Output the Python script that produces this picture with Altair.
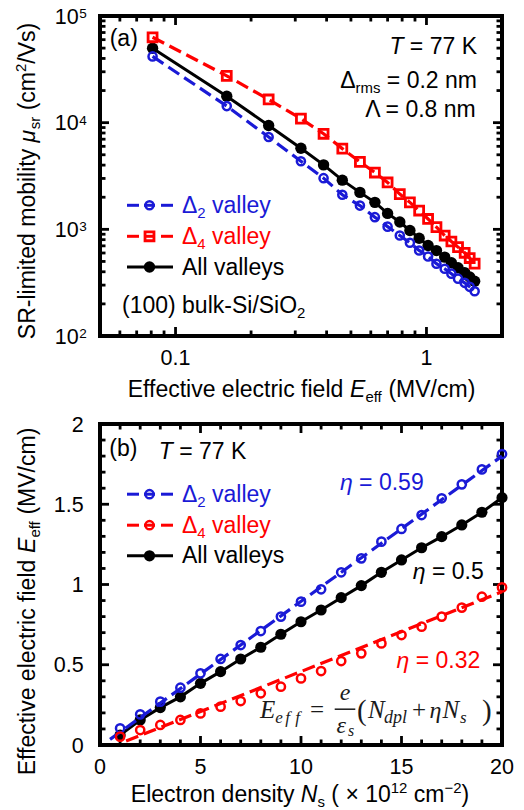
import altair as alt
import pandas as pd

# ---------------- data: panel (a) ----------------
field_a = [0.081, 0.160, 0.235, 0.316, 0.389, 0.462, 0.543, 0.623, 0.700, 0.783,
           0.859, 0.935, 1.015, 1.096, 1.182, 1.257, 1.336, 1.420, 1.487, 1.556]
mu_d2 = [41800, 14300, 7330, 4350, 3020, 2110, 1670, 1300, 1060, 875,
         748, 634, 557, 476, 427, 384, 345, 315, 289, 263]
mu_d4 = [63200, 27500, 16500, 10900, 7870, 5710, 4290, 3410, 2750, 2140,
         1790, 1500, 1250, 1050, 875, 769, 681, 603, 538, 476]
mu_all = [49900, 17700, 9400, 5750, 4020, 2890, 2220, 1790, 1410, 1170,
          975, 826, 706, 632, 549, 486, 437, 393, 357, 326]

# ---------------- data: panel (b) ----------------
ns = list(range(1, 21))
e_d2 = [0.104, 0.191, 0.270, 0.357, 0.447, 0.536, 0.623, 0.710, 0.800, 0.893,
        0.970, 1.076, 1.163, 1.267, 1.346, 1.433, 1.537, 1.624, 1.717, 1.813]
e_d4 = [0.052, 0.093, 0.125, 0.156, 0.197, 0.239, 0.274, 0.322, 0.363, 0.415,
        0.461, 0.523, 0.571, 0.633, 0.685, 0.737, 0.800, 0.856, 0.924, 0.982]
e_all = [0.062, 0.156, 0.233, 0.300, 0.384, 0.457, 0.536, 0.609, 0.690, 0.768,
         0.841, 0.918, 0.993, 1.076, 1.153, 1.229, 1.298, 1.371, 1.450, 1.541]
fit_ns_d2 = [0.5, 20]
fit_e_d2 = [0.035, 1.80]
fit_ns_d4 = [1.3, 20]
fit_e_d4 = [0.025, 0.955]

# ---------------- ticks / labels ----------------
a_x_major = [0.1, 1]
a_x_labels = ["0.1", "1"]
a_x_minor = [0.06, 0.07, 0.08, 0.09, 0.2, 0.3, 0.4, 0.5, 0.6, 0.7, 0.8, 0.9]
a_y_major = [100, 1000, 10000, 100000]
a_y_exp = ["2", "3", "4", "5"]
a_y_minor = [m * 10 ** k for k in (2, 3, 4) for m in range(2, 10)]

b_x_major = [0, 5, 10, 15, 20]
b_x_labels = ["0", "5", "10", "15", "20"]
b_x_minor = [i for i in range(1, 20) if i % 5]
b_y_major = [0, 0.5, 1, 1.5, 2]
b_y_labels = ["0", "0.5", "1", "1.5", "2"]
b_y_minor = [round(0.1 * i, 1) for i in range(1, 20) if i % 5]

BLUE = "#1a1ad6"
RED = "#ff0000"
BLACK = "#000000"
SANS = "Liberation Sans"
SERIF = "Liberation Serif"

WA, HA = 402, 320
WB, HB = 402, 321

AW = {" ": 278, "(": 333, ")": 333, "+": 584, "-": 333, ".": 278, "/": 278, "=": 584,
      "×": 584, "−": 584, "²": 333, "Δ": 668, "Λ": 667, "μ": 576, "η": 556}
for d in "0123456789":
    AW[d] = 556
AW.update(dict(A=667, B=667, C=722, D=722, E=667, F=611, G=778, H=722, I=278, J=500, K=667,
               L=556, M=833, N=722, O=778, P=667, Q=778, R=722, S=667, T=611, U=722, V=667,
               W=944, X=667, Y=667, Z=611))
AW.update(dict(a=556, b=556, c=500, d=556, e=556, f=278, g=556, h=556, i=222, j=222, k=500,
               l=222, m=833, n=556, o=556, p=556, q=556, r=333, s=500, t=278, u=556, v=500,
               w=722, x=500, y=500, z=500))


def tw(s, size):
    return sum(AW.get(c, 556) for c in s) * size / 1000.0


def rich(segs, x, y, base=23, align="left", angle=0, color=BLACK):
    items = []
    for t, kind in segs:
        small = kind in ("sub", "sup")
        size = base * 0.65 if small else base
        shift = 0 if not small else (0.22 * base if kind == "sub" else -0.38 * base)
        items.append((t, kind, size, shift, tw(t, size)))
    total = sum(i[4] for i in items)
    cum = {"left": 0, "center": -total / 2, "right": -total}[align]
    out = []
    for t, kind, size, shift, w in items:
        lead = len(t) - len(t.lstrip(" "))
        off = cum + tw(t[:lead], size)
        if angle == 0:
            px, py = x + off, y + shift
        else:
            px, py = x + shift, y - off
        out.append(dict(text=t.strip(" "), x=px, y=py, size=size, italic=(kind == "i"),
                        angle=angle, color=color, font=SANS, align="left"))
        cum += w
    return out


ONE = pd.DataFrame({"k": [0]})


def text_layers(pieces):
    res = []
    for p in pieces:
        res.append(
            alt.Chart(ONE).mark_text(
                text=p["text"], align=p.get("align", "left"), baseline="alphabetic",
                font=p["font"], fontSize=p["size"],
                fontStyle="italic" if p["italic"] else "normal",
                angle=p["angle"], color=p["color"],
            ).encode(x=alt.value(p["x"]), y=alt.value(p["y"]))
        )
    return res


def hrule(x1, x2, y, color, w=3):
    return alt.Chart(ONE).mark_rule(color=color, strokeWidth=w).encode(
        x=alt.value(x1), x2=alt.value(x2), y=alt.value(y))


def marker(x, y, kind, color, size, sw=2.5):
    if kind == "filled":
        m = alt.Chart(ONE).mark_circle(color=color, size=size, opacity=1)
    else:
        m = alt.Chart(ONE).mark_point(shape=kind, filled=False, color=color, size=size,
                                      strokeWidth=sw, opacity=1)
    return m.encode(x=alt.value(x), y=alt.value(y))


def yticks(vals, sc, W, length):
    base = alt.Chart(pd.DataFrame({"v": vals})).mark_rule(color=BLACK, strokeWidth=2.8)
    return [base.encode(y=alt.Y("v:Q", scale=sc, axis=None), x=alt.value(0), x2=alt.value(length)),
            base.encode(y=alt.Y("v:Q", scale=sc, axis=None), x=alt.value(W), x2=alt.value(W - length))]


def xticks(vals, sc, H, length):
    base = alt.Chart(pd.DataFrame({"v": vals})).mark_rule(color=BLACK, strokeWidth=2.8)
    return [base.encode(x=alt.X("v:Q", scale=sc, axis=None), y=alt.value(H), y2=alt.value(H - length)),
            base.encode(x=alt.X("v:Q", scale=sc, axis=None), y=alt.value(0), y2=alt.value(length))]


# ================= panel (a) =================
xs_a = alt.Scale(type="log", domain=[0.05, 2], nice=False)
ys_a = alt.Scale(type="log", domain=[100, 100000], nice=False)
df_a = pd.DataFrame({"E": field_a, "d2": mu_d2, "d4": mu_d4, "all": mu_all})
XA = alt.X("E:Q", scale=xs_a, axis=None)
DASH = [13, 6]

S_OPEN_A = 66
S_SQ = 80
S_FILL_A = 130
S_OPEN_B = 68
S_FILL_B = 125

layers_a = []
layers_a.append(alt.Chart(ONE).mark_rule(strokeWidth=0.01, opacity=0).encode(
    x=alt.value(-98), x2=alt.value(-97.9), y=alt.value(-14)))
layers_a += yticks(a_y_major, ys_a, WA, 9) + yticks(a_y_minor, ys_a, WA, 5.5)
layers_a += xticks(a_x_major, xs_a, HA, 9) + xticks(a_x_minor, xs_a, HA, 5.5)

layers_a.append(alt.Chart(df_a).mark_line(color=BLACK, strokeWidth=3).encode(
    x=XA, y=alt.Y("all:Q", scale=ys_a, axis=None)))
layers_a.append(alt.Chart(df_a).mark_circle(color=BLACK, size=S_FILL_A, opacity=1).encode(
    x=XA, y=alt.Y("all:Q", scale=ys_a, axis=None)))
layers_a.append(alt.Chart(df_a).mark_line(color=BLUE, strokeWidth=3.2, strokeDash=DASH).encode(
    x=XA, y=alt.Y("d2:Q", scale=ys_a, axis=None)))
layers_a.append(alt.Chart(df_a).mark_point(shape="circle", filled=False, color=BLUE, size=S_OPEN_A,
                                           strokeWidth=2.5, opacity=1).encode(
    x=XA, y=alt.Y("d2:Q", scale=ys_a, axis=None)))
layers_a.append(alt.Chart(df_a).mark_line(color=RED, strokeWidth=3.2, strokeDash=DASH).encode(
    x=XA, y=alt.Y("d4:Q", scale=ys_a, axis=None)))
layers_a.append(alt.Chart(df_a).mark_point(shape="square", filled=False, color=RED, size=S_SQ,
                                           strokeWidth=2.8, opacity=1).encode(
    x=XA, y=alt.Y("d4:Q", scale=ys_a, axis=None)))

# tick labels (a)
ylab_a = pd.DataFrame({"v": a_y_major, "e": a_y_exp})
layers_a.append(alt.Chart(ylab_a).mark_text(align="right", baseline="alphabetic", font=SANS,
                                            fontSize=21.5, dy=7.5, color=BLACK).encode(
    y=alt.Y("v:Q", scale=ys_a, axis=None), x=alt.value(-21.3), text=alt.value("10")))
layers_a.append(alt.Chart(ylab_a).mark_text(align="left", baseline="alphabetic", font=SANS,
                                            fontSize=13.5, dy=2, color=BLACK).encode(
    y=alt.Y("v:Q", scale=ys_a, axis=None), x=alt.value(-20.7), text="e:N"))
xlab_a = pd.DataFrame({"v": a_x_major, "t": a_x_labels})
layers_a.append(alt.Chart(xlab_a).mark_text(align="center", baseline="alphabetic", font=SANS,
                                            fontSize=21.5, color=BLACK).encode(
    x=alt.X("v:Q", scale=xs_a, axis=None), y=alt.value(349), text="t:N"))

# legend (a)
LX = 49.5
layers_a += [hrule(27, 39, 189.3, BLUE), hrule(44, 55, 189.3, BLUE), hrule(61, 73, 189.3, BLUE),
             marker(LX, 189.3, "circle", BLUE, S_OPEN_A)]
layers_a += [hrule(27, 39, 220.3, RED), hrule(44, 55, 220.3, RED), hrule(61, 73, 220.3, RED),
             marker(LX, 220.3, "square", RED, S_SQ, 2.8)]
layers_a += [hrule(27, 73, 251, BLACK), marker(LX, 251, "filled", BLACK, S_FILL_A)]

pieces_a = []
pieces_a += rich([("Δ", "n"), ("2", "sub"), (" valley", "n")], 82, 196.7, color=BLUE)
pieces_a += rich([("Δ", "n"), ("4", "sub"), (" valley", "n")], 82, 227.7, color=RED)
pieces_a += rich([("All valleys", "n")], 82, 259.3)
pieces_a += rich([("(a)", "n")], 9.7, 30.3)
pieces_a += rich([("T", "i"), (" = 77 K", "n")], 377, 37.7, align="right")
pieces_a += rich([("Δ", "n"), ("rms", "sub"), (" = 0.2 nm", "n")], 377, 72, align="right")
pieces_a += rich([("Λ = 0.8 nm", "n")], 377, 101, align="right")
pieces_a += rich([("(100) bulk-Si/SiO", "n"), ("2", "sub")], 22, 297)
pieces_a += rich([("Effective electric field ", "n"), ("E", "i"), ("eff", "sub"), (" (MV/cm)", "n")],
                 201.5, 381, align="center")
pieces_a += rich([("SR-limited mobility ", "n"), ("μ", "i"), ("sr", "sub"), (" (cm", "n"),
                  ("2", "sup"), ("/Vs)", "n")], -65.5, 165, align="center", angle=270)
layers_a += text_layers(pieces_a)

chart_a = alt.layer(*layers_a).properties(width=WA, height=HA)

# ================= panel (b) =================
xs_b = alt.Scale(domain=[0, 20], nice=False, zero=False)
ys_b = alt.Scale(domain=[0, 2], nice=False, zero=False)
df_b = pd.DataFrame({"N": ns, "d2": e_d2, "d4": e_d4, "all": e_all})
df_f2 = pd.DataFrame({"N": fit_ns_d2, "E": fit_e_d2})
df_f4 = pd.DataFrame({"N": fit_ns_d4, "E": fit_e_d4})
XB = alt.X("N:Q", scale=xs_b, axis=None)

layers_b = []
layers_b += yticks(b_y_major, ys_b, WB, 9) + yticks(b_y_minor, ys_b, WB, 5.5)
layers_b += xticks(b_x_major, xs_b, HB, 9) + xticks(b_x_minor, xs_b, HB, 5.5)

layers_b.append(alt.Chart(df_b).mark_line(color=BLACK, strokeWidth=3).encode(
    x=XB, y=alt.Y("all:Q", scale=ys_b, axis=None)))
layers_b.append(alt.Chart(df_b).mark_circle(color=BLACK, size=S_FILL_B, opacity=1).encode(
    x=XB, y=alt.Y("all:Q", scale=ys_b, axis=None)))
layers_b.append(alt.Chart(df_f2).mark_line(color=BLUE, strokeWidth=3.2, strokeDash=DASH).encode(
    x=XB, y=alt.Y("E:Q", scale=ys_b, axis=None)))
layers_b.append(alt.Chart(df_b).mark_point(shape="circle", filled=False, color=BLUE, size=S_OPEN_B,
                                           strokeWidth=2.5, opacity=1).encode(
    x=XB, y=alt.Y("d2:Q", scale=ys_b, axis=None)))
layers_b.append(alt.Chart(df_f4).mark_line(color=RED, strokeWidth=3.2, strokeDash=DASH).encode(
    x=XB, y=alt.Y("E:Q", scale=ys_b, axis=None)))
layers_b.append(alt.Chart(df_b).mark_point(shape="circle", filled=False, color=RED, size=S_OPEN_B,
                                           strokeWidth=2.5, opacity=1).encode(
    x=XB, y=alt.Y("d4:Q", scale=ys_b, axis=None)))

ylab_b = pd.DataFrame({"v": b_y_major, "t": b_y_labels})
layers_b.append(alt.Chart(ylab_b).mark_text(align="right", baseline="alphabetic", font=SANS,
                                            fontSize=21.5, dy=7.5, color=BLACK).encode(
    y=alt.Y("v:Q", scale=ys_b, axis=None), x=alt.value(-16.3), text="t:N"))
xlab_b = pd.DataFrame({"v": b_x_major, "t": b_x_labels})
layers_b.append(alt.Chart(xlab_b).mark_text(align="center", baseline="alphabetic", font=SANS,
                                            fontSize=21.5, color=BLACK).encode(
    x=alt.X("v:Q", scale=xs_b, axis=None), y=alt.value(350.2), text="t:N"))

# legend (b)
layers_b += [hrule(27, 39, 70.2, BLUE), hrule(44, 55, 70.2, BLUE), hrule(61, 73, 70.2, BLUE),
             marker(LX, 70.2, "circle", BLUE, S_OPEN_B)]
layers_b += [hrule(27, 39, 101.2, RED), hrule(44, 55, 101.2, RED), hrule(61, 73, 101.2, RED),
             marker(LX, 101.2, "circle", RED, S_OPEN_B)]
layers_b += [hrule(27, 73, 131.8, BLACK), marker(LX, 131.8, "filled", BLACK, S_FILL_B)]

pieces_b = []
pieces_b += rich([("Δ", "n"), ("2", "sub"), (" valley", "n")], 82, 77.5, color=BLUE)
pieces_b += rich([("Δ", "n"), ("4", "sub"), (" valley", "n")], 82, 108.5, color=RED)
pieces_b += rich([("All valleys", "n")], 82, 139.2)
pieces_b += rich([("(b)", "n")], 9.3, 31.5)
pieces_b += rich([("T", "i"), (" = 77 K", "n")], 58.7, 35.2)
pieces_b += rich([("η", "i"), (" = 0.59", "n")], 323.7, 65.8, align="right", color=BLUE)
pieces_b += rich([("η", "i"), (" = 0.5", "n")], 383.7, 154.5, align="right")
pieces_b += rich([("η", "i"), (" = 0.32", "n")], 380.3, 243.5, align="right", color=RED)
pieces_b += rich([("Electron density ", "n"), ("N", "i"), ("s", "sub"), (" ( × 10", "n"),
                  ("12", "sup"), (" cm", "n"), ("−2", "sup"), (")", "n")],
                 200, 377.5, align="center")
pieces_b += rich([("Effective electric field ", "n"), ("E", "i"), ("eff", "sub"), (" (MV/cm)", "n")],
                 -65, 177.5, align="center", angle=270)

FC = "#1a1a1a"


def fp(t, x, y, size, italic=True, align="left"):
    return dict(text=t, x=x, y=y, size=size, italic=italic, angle=0, color=FC, font=SERIF, align=align)


pieces_b += [
    fp("E", 160, 293.5, 25),
    fp("e", 175.3, 298.5, 17), fp("f", 185.3, 298.5, 17), fp("f", 195.3, 298.5, 17),
    fp("=", 217, 293.5, 25, italic=False, align="center"),
    fp("e", 245, 275.5, 24, align="center"),
    fp("ε", 236.5, 308.5, 24), fp("s", 248, 312, 16),
    fp("(", 257, 296, 29, italic=False),
    fp("N", 268, 293.5, 25), fp("dpl", 284, 298.5, 18),
    fp("+", 319, 293.5, 25, italic=False, align="center"),
    fp("η", 329.5, 293.5, 24), fp("N", 342.5, 293.5, 25), fp("s", 360, 298.5, 17),
    fp(")", 382, 296, 29, italic=False),
]
layers_b.append(hrule(234.7, 255.3, 285.2, FC, 1.5))
layers_b += text_layers(pieces_b)

chart_b = alt.layer(*layers_b).properties(width=WB, height=HB)

chart = alt.vconcat(chart_a, chart_b, spacing=88, bounds="flush").properties(
    padding=0, background="white"
).configure_view(stroke="black", strokeWidth=4)

chart.save("out.html", embed_options={"renderer": "svg", "actions": False})
